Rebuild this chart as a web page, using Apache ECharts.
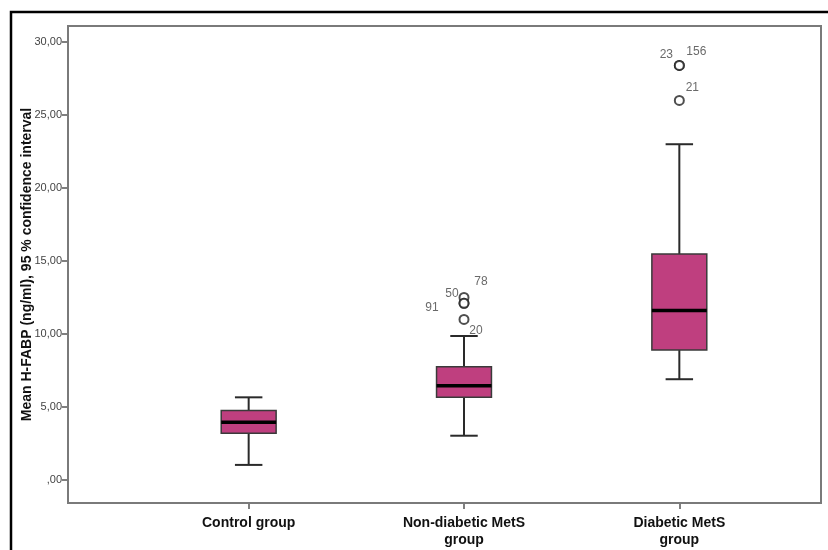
<!DOCTYPE html>
<html>
<head>
<meta charset="utf-8">
<script src="https://cdn.jsdelivr.net/npm/echarts@6/dist/echarts.min.js"></script>
<style>html,body{margin:0;padding:0;background:#fff}#c{width:828px;height:550px}</style>
</head>
<body>
<div id="c"></div>
<script>
// ---- data ----
const categories = ['Control group', 'Non-diabetic MetS\ngroup', 'Diabetic MetS\ngroup'];
const lowWhisker = [1.03, 3.03, 6.9];
const q1 = [3.2, 5.66, 8.9];
const median = [3.95, 6.46, 11.6];
const q3 = [4.75, 7.76, 15.48];
const highWhisker = [5.66, 9.86, 23.0];
const outlierGroup = [1, 1, 1, 1, 2, 2, 2];
const outlierValue = [12.5, 12.1, 12.1, 11.0, 28.4, 28.4, 26.0];
const outlierLabel = ['78', '50', '91', '20', '23', '156', '21'];
const yTicks = [0, 5, 10, 15, 20, 25, 30];

// label placement (style only)
const labelOffsets = [[17, -16], [-12, -10], [-32, 4], [12, 11], [-13, -11], [17, -14], [13, -13]];

const FONT = 'Liberation Sans, Arial, sans-serif';
const chart = echarts.init(document.getElementById('c'), null, {renderer: 'canvas'});

function fmt(v) {
  const s = v.toFixed(2).replace('.', ',');
  return v === 0 ? ',00' : s;
}

function renderBox(params, api) {
  const idx = api.value(0);
  const pLow = api.coord([idx, api.value(1)]);
  const pQ1 = api.coord([idx, api.value(2)]);
  const pMed = api.coord([idx, api.value(3)]);
  const pQ3 = api.coord([idx, api.value(4)]);
  const pHigh = api.coord([idx, api.value(5)]);
  const band = api.size([1, 0])[0];
  const boxW = band * 0.255;
  const capW = boxW / 2;
  const cx = pMed[0];
  const lineStyle = {stroke: '#2a2a2a', lineWidth: 2};
  return {
    type: 'group',
    children: [
      {type: 'line', shape: {x1: cx, y1: pLow[1], x2: cx, y2: pQ1[1]}, style: lineStyle},
      {type: 'line', shape: {x1: cx, y1: pQ3[1], x2: cx, y2: pHigh[1]}, style: lineStyle},
      {type: 'line', shape: {x1: cx - capW / 2, y1: pLow[1], x2: cx + capW / 2, y2: pLow[1]}, style: lineStyle},
      {type: 'line', shape: {x1: cx - capW / 2, y1: pHigh[1], x2: cx + capW / 2, y2: pHigh[1]}, style: lineStyle},
      {type: 'rect', shape: {x: cx - boxW / 2, y: pQ3[1], width: boxW, height: pQ1[1] - pQ3[1]},
        style: {fill: '#bf3f7f', stroke: '#3a3a3a', lineWidth: 1.5}},
      {type: 'line', shape: {x1: cx - boxW / 2, y1: pMed[1], x2: cx + boxW / 2, y2: pMed[1]},
        style: {stroke: '#000', lineWidth: 3.5}}
    ]
  };
}

const boxData = categories.map((c, i) => [i, lowWhisker[i], q1[i], median[i], q3[i], highWhisker[i]]);
const outlierData = outlierValue.map((v, i) => ({
  value: [outlierGroup[i], v],
  label: {offset: labelOffsets[i]}
}));

chart.setOption({
  backgroundColor: '#fff',
  animation: false,
  grid: {left: 141, right: 41, top: 26, bottom: 47},
  xAxis: {
    type: 'category',
    data: categories,
    axisLine: {show: false, onZero: false},
    axisTick: {show: true, alignWithLabel: true, length: 6, lineStyle: {color: '#555', width: 1.5}},
    axisLabel: {interval: 0, margin: 12, fontFamily: FONT, fontSize: 14, fontWeight: 'bold', color: '#111', lineHeight: 17},
    splitLine: {show: false}
  },
  yAxis: {
    type: 'value',
    min: -1.58,
    max: 31.1,
    offset: 73,
    name: 'Mean H-FABP (ng/ml), 95 % confidence interval',
    nameLocation: 'middle',
    nameGap: 34,
    nameMoveOverlap: false,
    nameTextStyle: {fontFamily: FONT, fontSize: 14, fontWeight: 'bold', color: '#111'},
    axisLine: {show: false},
    axisTick: {show: true, length: 6, customValues: yTicks, lineStyle: {color: '#555', width: 1.5}},
    axisLabel: {customValues: yTicks, formatter: fmt, fontFamily: FONT, fontSize: 11, color: '#444', margin: 6},
    splitLine: {show: false}
  },
  graphic: [
    {type: 'rect', shape: {x: 68, y: 26, width: 753, height: 477}, style: {fill: 'none', stroke: '#7a7a7a', lineWidth: 2}, silent: true, z: 100},
    {type: 'polyline', shape: {points: [[11, 550], [11, 12], [828, 12]]}, style: {fill: 'none', stroke: '#000', lineWidth: 2.5}, silent: true}
  ],
  series: [
    {
      type: 'custom',
      renderItem: renderBox,
      data: boxData,
      encode: {x: 0, y: [1, 2, 3, 4, 5]},
      z: 3
    },
    {
      type: 'scatter',
      data: outlierData,
      symbol: 'emptyCircle',
      symbolSize: 9,
      itemStyle: {color: '#222', borderWidth: 2},
      label: {show: true, position: 'inside', formatter: (p) => outlierLabel[p.dataIndex], fontFamily: FONT, fontSize: 12, color: '#444'},
      z: 4
    }
  ]
});
</script>
</body>
</html>
